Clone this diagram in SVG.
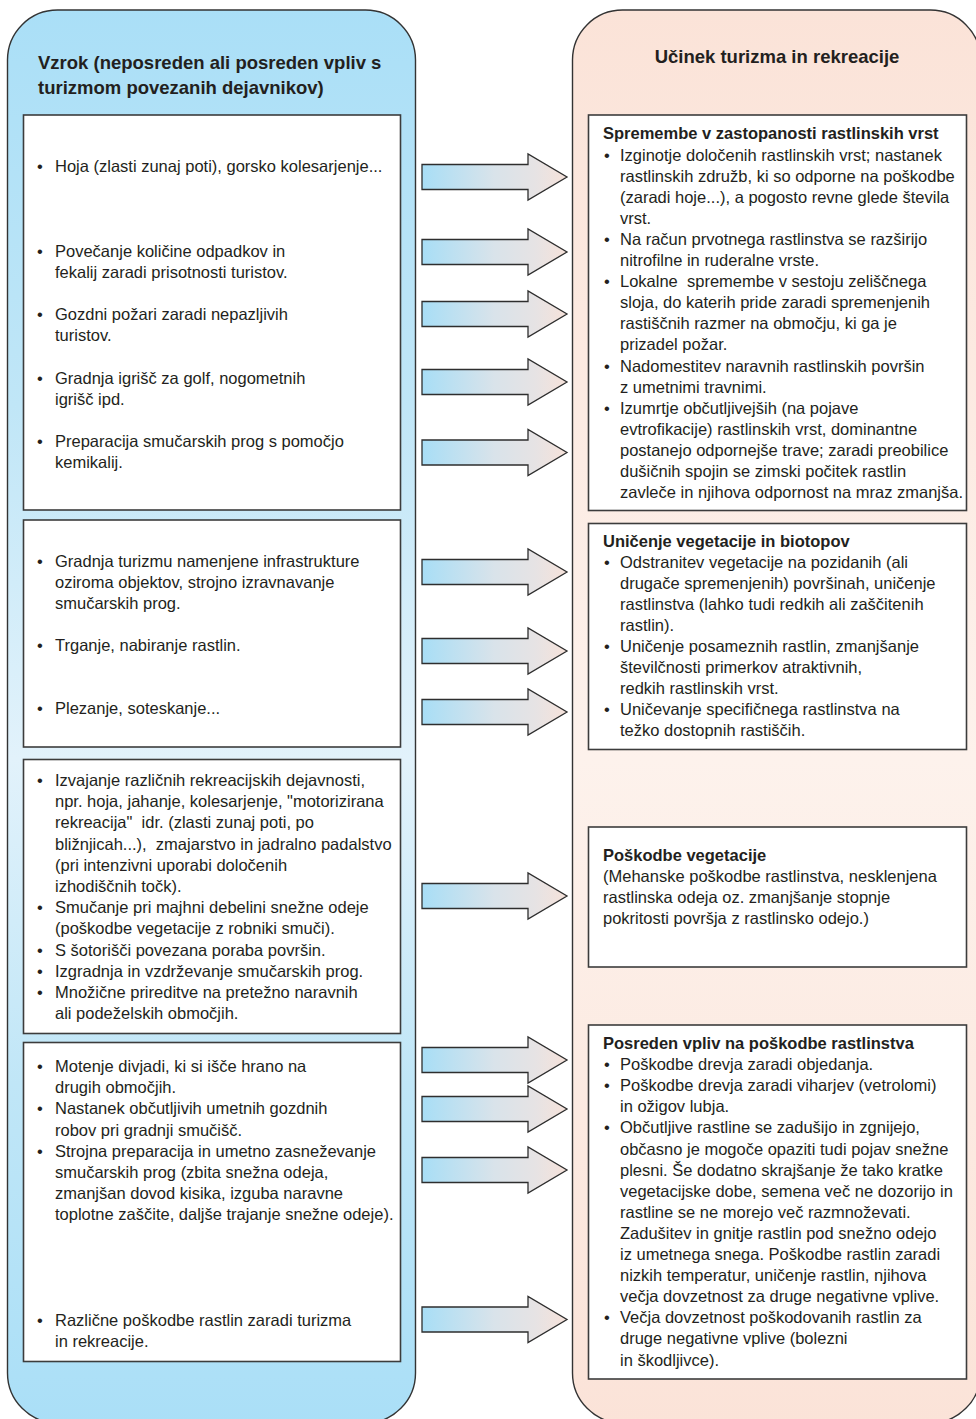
<svg xmlns="http://www.w3.org/2000/svg" width="976" height="1419" viewBox="0 0 976 1419">
<style>
.t{font-family:"Liberation Sans",Arial,sans-serif;font-size:16.5px;fill:#231f20}
.b{font-weight:bold}
.h{font-size:18.5px;font-weight:bold}
.box{fill:#ffffff;stroke:#3c3c3c;stroke-width:1.6}
.panel{stroke:#333333;stroke-width:1.4}
.arr{fill:url(#ag);stroke:#2e2e2e;stroke-width:1.3;stroke-linejoin:miter}
</style>
<defs>
<linearGradient id="lg" gradientUnits="userSpaceOnUse" x1="0" y1="10" x2="0" y2="1423">
<stop offset="0" stop-color="#aadff7"/>
<stop offset="0.28" stop-color="#c0e6f7"/>
<stop offset="0.53" stop-color="#e2f2fb"/>
<stop offset="0.76" stop-color="#c0e6f7"/>
<stop offset="1" stop-color="#aadff7"/>
</linearGradient>
<linearGradient id="rg" gradientUnits="userSpaceOnUse" x1="0" y1="10" x2="0" y2="1423">
<stop offset="0" stop-color="#fbe3d8"/>
<stop offset="0.53" stop-color="#fdf2ec"/>
<stop offset="1" stop-color="#fbe3d8"/>
</linearGradient>
<linearGradient id="ag" x1="0" y1="0" x2="1" y2="0">
<stop offset="0" stop-color="#a8def6"/>
<stop offset="0.5" stop-color="#d9e3ea"/>
<stop offset="0.78" stop-color="#e6e3e4"/>
<stop offset="1" stop-color="#f6e2da"/>
</linearGradient>
<path id="arrow" class="arr" d="M422,-12.5 H528 V-23 L567,0 L528,23 V12.5 H422 Z"/>
</defs>

<g id="panel-cause">
<rect class="panel" x="7.5" y="10" width="408" height="1413" rx="50" ry="50" fill="url(#lg)"/>
<text class="t h" x="38" y="68.5">Vzrok (neposreden ali posreden vpliv s</text>
<text class="t h" x="38" y="93.5">turizmom povezanih dejavnikov)</text>
</g>

<g id="panel-effect">
<rect class="panel" x="572.5" y="10" width="408" height="1413" rx="50" ry="50" fill="url(#rg)"/>
<text class="t h" x="777" y="63" text-anchor="middle">Učinek turizma in rekreacije</text>
</g>

<g id="cause-1">
<rect class="box" x="23.5" y="115" width="377" height="395"/>
<text class="t" x="37" y="172">•</text><text class="t" x="55" y="172">Hoja (zlasti zunaj poti), gorsko kolesarjenje...</text>
<text class="t" x="37" y="256.5">•</text><text class="t" x="55" y="256.5">Povečanje količine odpadkov in</text>
<text class="t" x="55" y="277.5">fekalij zaradi prisotnosti turistov.</text>
<text class="t" x="37" y="320">•</text><text class="t" x="55" y="320">Gozdni požari zaradi nepazljivih</text>
<text class="t" x="55" y="341">turistov.</text>
<text class="t" x="37" y="384">•</text><text class="t" x="55" y="384">Gradnja igrišč za golf, nogometnih</text>
<text class="t" x="55" y="405">igrišč ipd.</text>
<text class="t" x="37" y="447">•</text><text class="t" x="55" y="447">Preparacija smučarskih prog s pomočjo</text>
<text class="t" x="55" y="468">kemikalij.</text>
</g>

<g id="cause-2">
<rect class="box" x="23.5" y="520" width="377" height="227"/>
<text class="t" x="37" y="566.5">•</text><text class="t" x="55" y="566.5">Gradnja turizmu namenjene infrastrukture</text>
<text class="t" x="55" y="587.5">oziroma objektov, strojno izravnavanje</text>
<text class="t" x="55" y="608.5">smučarskih prog.</text>
<text class="t" x="37" y="651">•</text><text class="t" x="55" y="651">Trganje, nabiranje rastlin.</text>
<text class="t" x="37" y="714">•</text><text class="t" x="55" y="714">Plezanje, soteskanje...</text>
</g>

<g id="cause-3">
<rect class="box" x="23.5" y="759.5" width="377" height="274"/>
<text class="t" x="37" y="786">•</text><text class="t" x="55" y="786">Izvajanje različnih rekreacijskih dejavnosti,</text>
<text class="t" x="55" y="807.2">npr. hoja, jahanje, kolesarjenje, "motorizirana</text>
<text class="t" x="55" y="828.4" xml:space="preserve">rekreacija"  idr. (zlasti zunaj poti, po</text>
<text class="t" x="55" y="849.6" xml:space="preserve">bližnjicah...),  zmajarstvo in jadralno padalstvo</text>
<text class="t" x="55" y="870.8">(pri intenzivni uporabi določenih</text>
<text class="t" x="55" y="892">izhodiščnih točk).</text>
<text class="t" x="37" y="913.2">•</text><text class="t" x="55" y="913.2">Smučanje pri majhni debelini snežne odeje</text>
<text class="t" x="55" y="934.4">(poškodbe vegetacije z robniki smuči).</text>
<text class="t" x="37" y="955.6">•</text><text class="t" x="55" y="955.6">S šotorišči povezana poraba površin.</text>
<text class="t" x="37" y="976.8">•</text><text class="t" x="55" y="976.8">Izgradnja in vzdrževanje smučarskih prog.</text>
<text class="t" x="37" y="998">•</text><text class="t" x="55" y="998">Množične prireditve na pretežno naravnih</text>
<text class="t" x="55" y="1019.2">ali podeželskih območjih.</text>
</g>

<g id="cause-4">
<rect class="box" x="23.5" y="1042.5" width="377" height="319"/>
<text class="t" x="37" y="1072">•</text><text class="t" x="55" y="1072">Motenje divjadi, ki si išče hrano na</text>
<text class="t" x="55" y="1093.2">drugih območjih.</text>
<text class="t" x="37" y="1114.4">•</text><text class="t" x="55" y="1114.4">Nastanek občutljivih umetnih gozdnih</text>
<text class="t" x="55" y="1135.6">robov pri gradnji smučišč.</text>
<text class="t" x="37" y="1156.8">•</text><text class="t" x="55" y="1156.8">Strojna preparacija in umetno zasneževanje</text>
<text class="t" x="55" y="1178">smučarskih prog (zbita snežna odeja,</text>
<text class="t" x="55" y="1199.2">zmanjšan dovod kisika, izguba naravne</text>
<text class="t" x="55" y="1220.4">toplotne zaščite, daljše trajanje snežne odeje).</text>
<text class="t" x="37" y="1326">•</text><text class="t" x="55" y="1326">Različne poškodbe rastlin zaradi turizma</text>
<text class="t" x="55" y="1347">in rekreacije.</text>
</g>

<g id="effect-1">
<rect class="box" x="588.5" y="115" width="378" height="395.5"/>
<text class="t b" x="603" y="138.5">Spremembe v zastopanosti rastlinskih vrst</text>
<text class="t" x="604" y="160.5">•</text><text class="t" x="620" y="160.5">Izginotje določenih rastlinskih vrst; nastanek</text>
<text class="t" x="620" y="181.6">rastlinskih združb, ki so odporne na poškodbe</text>
<text class="t" x="620" y="202.7">(zaradi hoje...), a pogosto revne glede števila</text>
<text class="t" x="620" y="223.8">vrst.</text>
<text class="t" x="604" y="244.9">•</text><text class="t" x="620" y="244.9">Na račun prvotnega rastlinstva se razširijo</text>
<text class="t" x="620" y="266">nitrofilne in ruderalne vrste.</text>
<text class="t" x="604" y="287.1">•</text><text class="t" x="620" y="287.1" xml:space="preserve">Lokalne  spremembe v sestoju zeliščnega</text>
<text class="t" x="620" y="308.2">sloja, do katerih pride zaradi spremenjenih</text>
<text class="t" x="620" y="329.3">rastiščnih razmer na območju, ki ga je</text>
<text class="t" x="620" y="350.4">prizadel požar.</text>
<text class="t" x="604" y="371.5">•</text><text class="t" x="620" y="371.5">Nadomestitev naravnih rastlinskih površin</text>
<text class="t" x="620" y="392.6">z umetnimi travnimi.</text>
<text class="t" x="604" y="413.7">•</text><text class="t" x="620" y="413.7">Izumrtje občutljivejših (na pojave</text>
<text class="t" x="620" y="434.8">evtrofikacije) rastlinskih vrst, dominantne</text>
<text class="t" x="620" y="455.9">postanejo odpornejše trave; zaradi preobilice</text>
<text class="t" x="620" y="477">dušičnih spojin se zimski počitek rastlin</text>
<text class="t" x="620" y="498.1">zavleče in njihova odpornost na mraz zmanjša.</text>
</g>

<g id="effect-2">
<rect class="box" x="588.5" y="523.5" width="378" height="226"/>
<text class="t b" x="603" y="546.5">Uničenje vegetacije in biotopov</text>
<text class="t" x="604" y="567.6">•</text><text class="t" x="620" y="567.6">Odstranitev vegetacije na pozidanih (ali</text>
<text class="t" x="620" y="588.7">drugače spremenjenih) površinah, uničenje</text>
<text class="t" x="620" y="609.8">rastlinstva (lahko tudi redkih ali zaščitenih</text>
<text class="t" x="620" y="630.9">rastlin).</text>
<text class="t" x="604" y="652">•</text><text class="t" x="620" y="652">Uničenje posameznih rastlin, zmanjšanje</text>
<text class="t" x="620" y="673.1">številčnosti primerkov atraktivnih,</text>
<text class="t" x="620" y="694.2">redkih rastlinskih vrst.</text>
<text class="t" x="604" y="715.3">•</text><text class="t" x="620" y="715.3">Uničevanje specifičnega rastlinstva na</text>
<text class="t" x="620" y="736.4">težko dostopnih rastiščih.</text>
</g>

<g id="effect-3">
<rect class="box" x="588.5" y="827" width="378" height="140"/>
<text class="t b" x="603" y="860.5">Poškodbe vegetacije</text>
<text class="t" x="603" y="881.6">(Mehanske poškodbe rastlinstva, nesklenjena</text>
<text class="t" x="603" y="902.7">rastlinska odeja oz. zmanjšanje stopnje</text>
<text class="t" x="603" y="923.8">pokritosti površja z rastlinsko odejo.)</text>
</g>

<g id="effect-4">
<rect class="box" x="588.5" y="1025" width="378" height="354"/>
<text class="t b" x="603" y="1049">Posreden vpliv na poškodbe rastlinstva</text>
<text class="t" x="604" y="1070.1">•</text><text class="t" x="620" y="1070.1">Poškodbe drevja zaradi objedanja.</text>
<text class="t" x="604" y="1091.2">•</text><text class="t" x="620" y="1091.2">Poškodbe drevja zaradi viharjev (vetrolomi)</text>
<text class="t" x="620" y="1112.3">in ožigov lubja.</text>
<text class="t" x="604" y="1133.4">•</text><text class="t" x="620" y="1133.4">Občutljive rastline se zadušijo in zgnijejo,</text>
<text class="t" x="620" y="1154.5">občasno je mogoče opaziti tudi pojav snežne</text>
<text class="t" x="620" y="1175.6">plesni. Še dodatno skrajšanje že tako kratke</text>
<text class="t" x="620" y="1196.7">vegetacijske dobe, semena več ne dozorijo in</text>
<text class="t" x="620" y="1217.8">rastline se ne morejo več razmnoževati.</text>
<text class="t" x="620" y="1238.9">Zadušitev in gnitje rastlin pod snežno odejo</text>
<text class="t" x="620" y="1260">iz umetnega snega. Poškodbe rastlin zaradi</text>
<text class="t" x="620" y="1281.1">nizkih temperatur, uničenje rastlin, njihova</text>
<text class="t" x="620" y="1302.2">večja dovzetnost za druge negativne vplive.</text>
<text class="t" x="604" y="1323.3">•</text><text class="t" x="620" y="1323.3">Večja dovzetnost poškodovanih rastlin za</text>
<text class="t" x="620" y="1344.4">druge negativne vplive (bolezni</text>
<text class="t" x="620" y="1365.5">in škodljivce).</text>
</g>

<g id="connectors">
<use href="#arrow" y="177"/>
<use href="#arrow" y="252"/>
<use href="#arrow" y="314"/>
<use href="#arrow" y="382"/>
<use href="#arrow" y="452.5"/>
<use href="#arrow" y="572"/>
<use href="#arrow" y="651"/>
<use href="#arrow" y="712"/>
<use href="#arrow" y="896"/>
<use href="#arrow" y="1060"/>
<use href="#arrow" y="1109"/>
<use href="#arrow" y="1170"/>
<use href="#arrow" y="1319.5"/>
</g>
</svg>
